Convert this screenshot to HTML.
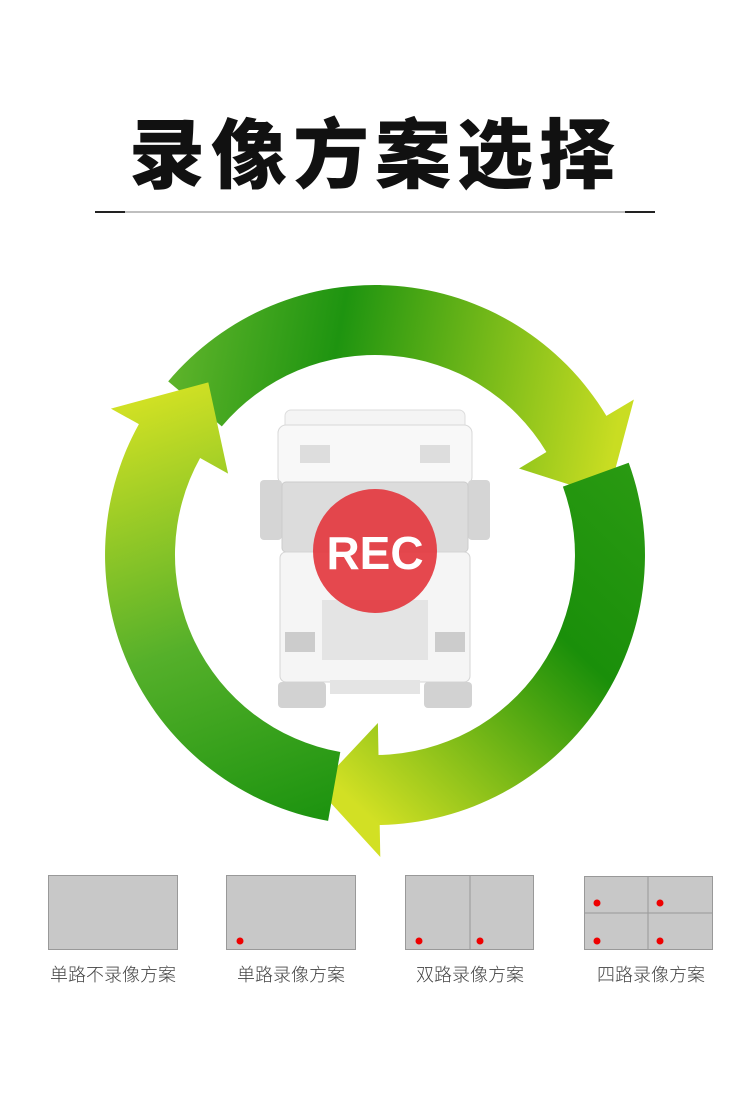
<!DOCTYPE html>
<html><head><meta charset="utf-8"><style>
body{margin:0;width:750px;height:1099px;background:#fff;position:relative;overflow:hidden;font-family:"Liberation Sans","Noto Sans CJK SC",sans-serif}
.t{position:absolute;top:102px;left:0;width:750px;text-align:center;font-size:76px;font-weight:900;color:#111;letter-spacing:6px;line-height:110px}
.lbl{position:absolute;top:961px;font-size:18px;color:#444;text-align:center;width:170px;font-weight:300}
</style></head><body>
<div class="t">录像方案选择</div>
<svg width="750" height="1099" style="position:absolute;left:0;top:0">
<line x1="95" y1="212" x2="655" y2="212" stroke="#999" stroke-width="1.2"/>
<line x1="95" y1="212" x2="125" y2="212" stroke="#222" stroke-width="2"/>
<line x1="625" y1="212" x2="655" y2="212" stroke="#222" stroke-width="2"/>
<defs>
<linearGradient id="g1" gradientUnits="userSpaceOnUse" x1="170" y1="390" x2="610" y2="470"><stop offset="0" stop-color="#5db32a"/><stop offset="0.35" stop-color="#1e9410"/><stop offset="1" stop-color="#c9dd22"/></linearGradient>
<linearGradient id="g2" gradientUnits="userSpaceOnUse" x1="640" y1="470" x2="340" y2="790"><stop offset="0" stop-color="#2a9a12"/><stop offset="0.4" stop-color="#1a8f0a"/><stop offset="1" stop-color="#d2e024"/></linearGradient>
<linearGradient id="g3" gradientUnits="userSpaceOnUse" x1="330" y1="810" x2="180" y2="390"><stop offset="0" stop-color="#1e9410"/><stop offset="0.45" stop-color="#55b02a"/><stop offset="1" stop-color="#cfe024"/></linearGradient>
</defs>
<g id="arrows"></g>
<g>
<rect x="285" y="410" width="180" height="22" rx="6" fill="#f4f4f4" stroke="#ddd"/>
<rect x="278" y="425" width="194" height="60" rx="8" fill="#f8f8f8" stroke="#d8d8d8"/>
<rect x="300" y="445" width="30" height="18" fill="#ddd"/><rect x="420" y="445" width="30" height="18" fill="#ddd"/>
<rect x="260" y="480" width="22" height="60" rx="4" fill="#d5d5d5"/><rect x="468" y="480" width="22" height="60" rx="4" fill="#d5d5d5"/>
<rect x="282" y="482" width="186" height="70" rx="4" fill="#dcdcdc" stroke="#ccc"/>
<rect x="280" y="552" width="190" height="130" rx="6" fill="#f5f5f5" stroke="#d5d5d5"/>
<rect x="322" y="600" width="106" height="60" fill="#e4e4e4"/>
<rect x="285" y="632" width="30" height="20" fill="#ccc"/><rect x="435" y="632" width="30" height="20" fill="#ccc"/>
<rect x="278" y="682" width="48" height="26" rx="4" fill="#d2d2d2"/><rect x="424" y="682" width="48" height="26" rx="4" fill="#d2d2d2"/>
<rect x="330" y="680" width="90" height="14" fill="#e4e4e4"/>
</g>
<circle cx="375" cy="551" r="62" fill="#e3383f" fill-opacity="0.92"/>
<text x="375" y="569" text-anchor="middle" font-family="Liberation Sans" font-weight="bold" font-size="46" fill="#fff">REC</text>
<g fill="#c8c8c8" stroke="#999" stroke-width="1">
<rect x="48.5" y="875.5" width="129" height="74"/>
<rect x="226.5" y="875.5" width="129" height="74"/>
<rect x="405.5" y="875.5" width="128" height="74"/>
<rect x="584.5" y="876.5" width="128" height="73"/>
<line x1="470" y1="875" x2="470" y2="950"/>
<line x1="648" y1="876" x2="648" y2="950"/>
<line x1="584" y1="913" x2="713" y2="913"/>
</g>
<g fill="#e00">
<circle cx="240" cy="941" r="3.5"/>
<circle cx="419" cy="941" r="3.5"/><circle cx="480" cy="941" r="3.5"/>
<circle cx="597" cy="903" r="3.5"/><circle cx="660" cy="903" r="3.5"/>
<circle cx="597" cy="941" r="3.5"/><circle cx="660" cy="941" r="3.5"/>
</g>
</svg>
<div class="lbl" style="left:28px">单路不录像方案</div>
<div class="lbl" style="left:206px">单路录像方案</div>
<div class="lbl" style="left:385px">双路录像方案</div>
<div class="lbl" style="left:566px">四路录像方案</div>
<script>
(function(){
var cx=375,cy=555,R=270,r=200,WO=302,WI=168,T=240;
function p(rad,a){a=a*Math.PI/180;return (cx+rad*Math.cos(a)).toFixed(1)+","+(cy+rad*Math.sin(a)).toFixed(1);}
var s="";
[[-140,-31,-14,"g1"],[-20,89,104,"g2"],[100,209,226,"g3"]].forEach(function(a){
var d="M"+p(R,a[0])+" A"+R+","+R+" 0 0 1 "+p(R,a[1])+" L"+p(WO,a[1])+" L"+p(T,a[2])+" L"+p(WI,a[1])+" L"+p(r,a[1])+" A"+r+","+r+" 0 0 0 "+p(r,a[0])+" Z";
s+='<path d="'+d+'" fill="url(#'+a[3]+')"/>';
});
document.getElementById("arrows").innerHTML=s;
})();
</script>
</body></html>
